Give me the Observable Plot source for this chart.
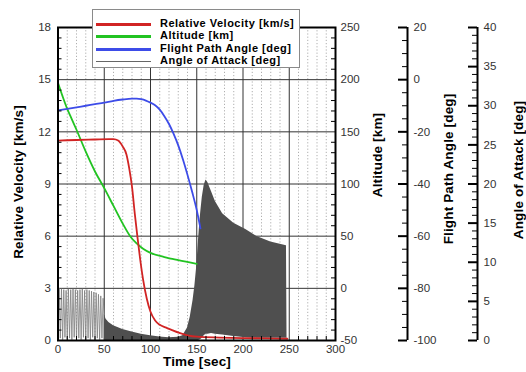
<!DOCTYPE html>
<html><head><meta charset="utf-8">
<script src="https://cdn.jsdelivr.net/npm/d3@7"></script>
<script src="https://cdn.jsdelivr.net/npm/@observablehq/plot@0.6"></script>
<style>
body{margin:0;background:#fff;font-family:"Liberation Sans",Arial,sans-serif;}
#wrap{position:relative;width:526px;height:372px;overflow:hidden;}
.title{position:absolute;font-weight:bold;font-size:13.5px;letter-spacing:0.15px;color:#000;white-space:nowrap;transform:translate(-50%,-50%);}
.rot{transform:translate(-50%,-50%) rotate(-90deg);}
.legend{position:absolute;left:92px;top:9px;width:208px;height:59px;border:1px solid #8a8a8a;background:#fff;box-sizing:border-box;}
.lrow{position:absolute;left:0;height:12px;width:206px;}
.lline{position:absolute;left:3px;width:55px;}
.ltext{position:absolute;left:67px;top:-1px;font-weight:bold;font-size:11px;letter-spacing:0.5px;line-height:12px;white-space:nowrap;}
</style></head>
<body><div id="wrap"></div>
<script>
// ---- data ----
const timeTicks = [0, 50, 100, 150, 200, 250, 300];
const velTicks = [0, 3, 6, 9, 12, 15, 18];
const altTicks = [-50, 0, 50, 100, 150, 200, 250];
const fpaTicks = [-100, -80, -60, -40, -20, 0, 20];
const aoaTicks = [0, 5, 10, 15, 20, 25, 30, 35, 40];

const velT = [0, 20, 40, 55, 60, 65, 70, 74, 77, 80, 83, 86, 89, 92, 96, 100, 105, 110, 117, 124, 132, 140, 150, 175, 200, 225, 248];
const vel  = [11.5, 11.53, 11.56, 11.58, 11.58, 11.5, 11.15, 10.7, 9.9, 8.85, 7.3, 5.9, 4.6, 3.5, 2.4, 1.65, 1.15, 0.9, 0.74, 0.58, 0.42, 0.3, 0.22, 0.17, 0.14, 0.12, 0.1];

const altT = [0, 5, 10, 15, 20, 30, 40, 50, 60, 70, 78, 85, 92, 100, 115, 130, 150];
const alt  = [197, 184, 172, 162, 152, 131, 112, 96, 79, 62, 50, 43, 38, 34, 30, 27, 23.5];

const fpaT = [0, 10, 20, 30, 40, 50, 60, 70, 80, 85, 90, 95, 100, 105, 110, 115, 120, 125, 130, 135, 140, 145, 150, 154];
const fpa  = [-11.8, -11.2, -10.6, -10.0, -9.4, -8.8, -8.1, -7.6, -7.3, -7.3, -7.5, -8.0, -8.8, -9.8, -11.5, -14.0, -17.0, -20.8, -25.2, -30.5, -36.5, -43, -50, -57];

// early angle-of-attack oscillation (0-50 s)
const aoaOscT = [0, 1.25, 2.5, 3.75, 5, 6.25, 7.5, 8.75, 10, 11.25, 12.5, 13.75, 15, 16.25, 17.5, 18.75, 20, 21.25, 22.5, 23.75, 25, 26.25, 27.5, 28.75, 30, 31.25, 32.5, 33.75, 35, 36.25, 37.5, 38.75, 40, 41.25, 42.5, 43.75, 45, 46.25, 47.5, 48.75, 50];
const aoaOsc  = [0.1, 6.7, 0.3, 6.6, 0.1, 6.5, 0.4, 6.4, 0.1, 6.6, 0.3, 6.5, 0.1, 6.6, 0.4, 6.5, 0.1, 6.4, 0.3, 6.5, 0.1, 6.6, 0.4, 6.4, 0.1, 6.5, 0.3, 6.4, 0.1, 6.3, 0.4, 6.2, 0.1, 6.1, 0.3, 5.9, 0.1, 5.7, 0.3, 5.4, 3.3];

// angle-of-attack envelope (50-248 s)
const aoaEnvT  = [50, 52, 55, 60, 70, 80, 90, 100, 110, 120, 130, 135, 140, 143, 146, 148, 150, 152, 154, 156, 158, 160, 162, 166, 170, 178, 190, 203, 215, 230, 247, 247.6];
const aoaUpper = [3.3, 2.7, 2.3, 1.9, 1.4, 1.1, 0.8, 0.6, 0.45, 0.35, 0.4, 0.6, 1.6, 3.0, 5.1, 7.0, 9.5, 13.0, 16.0, 18.3, 19.8, 20.5, 20.2, 19.0, 17.8, 16.2, 15.0, 14.2, 13.3, 12.6, 12.1, 0];
const aoaLower = [0, 0, 0, 0, 0, 0, 0, 0, 0, 0, 0, 0, 0, 0, 0, 0, 0, 0, 0.1, 0.3, 0.6, 0.8, 0.8, 0.9, 0.8, 0.7, 0.5, 0.35, 0.3, 0.3, 0.3, 0];

// ---- scale conversions for the stacked right-hand axes ----
const altToV = a => (a + 50) / 300 * 18;
const fpaToV = f => (f + 100) / 120 * 18;
const aoaToV = a => a / 40 * 18;

const W = 526, H = 372, mL = 57.5, mR = 191, mT = 27, mB = 32;
const pxX = (W - mL - mR) / 300;       // px per second
const pxY = (H - mT - mB) / 18;        // px per km/s
const fpaAxisX = (407 - mL) / pxX;
const aoaAxisX = (477 - mL) / pxX;
const tx = px => px / pxX, ty = px => px / pxY;

const range = (a, b, s) => d3.range(a, b + 1e-9, s).map(v => +v.toFixed(4));
const minorX = range(0, 300, 10).filter(v => v % 50 !== 0);
const minorV = range(0, 18, 0.6).filter(v => Math.abs(v / 3 - Math.round(v / 3)) > 1e-6);
const minorAlt = range(-50, 250, 10).filter(v => v % 50 !== 0);
const minorFpa = range(-100, 20, 5).filter(v => v % 20 !== 0);
const minorAoa = range(0, 40, 1).filter(v => v % 5 !== 0);

const velData = velT.map((t, i) => ({t, v: vel[i]}));
const altData = altT.map((t, i) => ({t, v: altToV(alt[i])}));
const fpaData = fpaT.map((t, i) => ({t, v: fpaToV(fpa[i])}));
const oscData = aoaOscT.map((t, i) => ({t, v: aoaToV(aoaOsc[i])}));
const envData = aoaEnvT.map((t, i) => ({t, lo: aoaToV(aoaLower[i]), hi: aoaToV(aoaUpper[i])}));

const rightAxis = (ticks, minor, conv, xpos, major, minorLen) => [
  Plot.ruleX([xpos], {y1: 0, y2: 18, stroke: "#000", strokeWidth: 2}),
  Plot.ruleY(ticks, {y: conv, x1: () => xpos - tx(major), x2: () => xpos, stroke: "#000", strokeWidth: 2}),
  Plot.ruleY(minor, {y: conv, x1: () => xpos - tx(minorLen), x2: () => xpos, stroke: "#000", strokeWidth: 1}),
  Plot.text(ticks, {x: () => xpos, y: conv, text: d => String(d), textAnchor: "start", dx: 6, fill: "#333", fontSize: 11.5})
];

const chart = Plot.plot({
  width: W, height: H,
  marginLeft: mL, marginRight: mR, marginTop: mT, marginBottom: mB,
  x: {domain: [0, 300]},
  y: {domain: [0, 18]},
  style: {fontFamily: "'Liberation Sans', Arial, sans-serif", fontSize: "11.5px", background: "#fff"},
  marks: [
    Plot.ruleX(minorX, {stroke: "#9a9a9a", strokeWidth: 0.8, strokeDasharray: "1.2,2"}),
    Plot.ruleX(timeTicks.filter(d => d > 0 && d < 300), {stroke: "#333", strokeWidth: 1}),
    Plot.ruleY(velTicks.filter(d => d > 0 && d < 18), {stroke: "#333", strokeWidth: 1}),
    Plot.line(oscData, {x: "t", y: "v", stroke: "#7d7d7d", strokeWidth: 0.8}),
    Plot.areaY(envData, {x: "t", y1: "lo", y2: "hi", fill: "#4f4f4f", curve: "linear"}),
    Plot.line(altData, {x: "t", y: "v", stroke: "#22c322", strokeWidth: 1.8, curve: "monotone-x"}),
    Plot.line(fpaData, {x: "t", y: "v", stroke: "#3d4ce8", strokeWidth: 1.8, curve: "monotone-x"}),
    Plot.line(velData, {x: "t", y: "v", stroke: "#d12424", strokeWidth: 1.8, curve: "monotone-x"}),
    // inner ticks on frame
    Plot.ruleY(minorV, {y: d => d, x1: () => 0, x2: () => tx(4), stroke: "#000"}),
    Plot.ruleX(minorX, {x: d => d, y1: () => 0, y2: () => ty(4), stroke: "#000"}),
    Plot.ruleY(minorAlt, {y: altToV, x1: () => 300 - tx(4), x2: () => 300, stroke: "#000"}),
    Plot.frame({stroke: "#000", strokeWidth: 2}),
    Plot.axisY(velTicks, {anchor: "left", tickSize: 0, tickPadding: 7, fill: "#333", label: null}),
    Plot.axisX(timeTicks, {anchor: "bottom", tickSize: 0, tickPadding: 4, fill: "#333", label: null}),
    Plot.text(altTicks, {x: () => 300, y: altToV, text: d => String(d), textAnchor: "start", dx: 5, fill: "#333", fontSize: 11.5}),
    ...rightAxis(fpaTicks, minorFpa, fpaToV, fpaAxisX, 9, 5),
    ...rightAxis(aoaTicks, minorAoa, aoaToV, aoaAxisX, 9, 5)
  ]
});

const wrap = document.getElementById("wrap");
wrap.appendChild(chart);

const titles = [
  {text: "Relative Velocity [km/s]", x: 18, y: 182, rot: true},
  {text: "Altitude [km]", x: 377, y: 155, rot: true},
  {text: "Flight Path Angle [deg]", x: 448, y: 169, rot: true},
  {text: "Angle of Attack [deg]", x: 518, y: 170, rot: true},
  {text: "Time [sec]", x: 197, y: 361, rot: false}
];
for (const t of titles) {
  const d = document.createElement("div");
  d.className = "title" + (t.rot ? " rot" : "");
  d.style.left = t.x + "px"; d.style.top = t.y + "px";
  d.textContent = t.text;
  wrap.appendChild(d);
}

const legendItems = [
  {label: "Relative Velocity [km/s]", color: "#d12424", w: 3},
  {label: "Altitude [km]", color: "#22c322", w: 3},
  {label: "Flight Path Angle [deg]", color: "#3d4ce8", w: 3},
  {label: "Angle of Attack [deg]", color: "#666", w: 1}
];
const rowTops = [8, 20, 33, 45];
const lg = document.createElement("div");
lg.className = "legend";
legendItems.forEach((it, i) => {
  const r = document.createElement("div");
  r.className = "lrow"; r.style.top = rowTops[i] + "px";
  const l = document.createElement("div");
  l.className = "lline"; l.style.height = it.w + "px"; l.style.background = it.color;
  l.style.top = (it.w === 3 ? 5 : 6) + "px";
  const s = document.createElement("div");
  s.className = "ltext"; s.textContent = it.label;
  r.appendChild(l); r.appendChild(s); lg.appendChild(r);
});
wrap.appendChild(lg);
</script></body></html>
